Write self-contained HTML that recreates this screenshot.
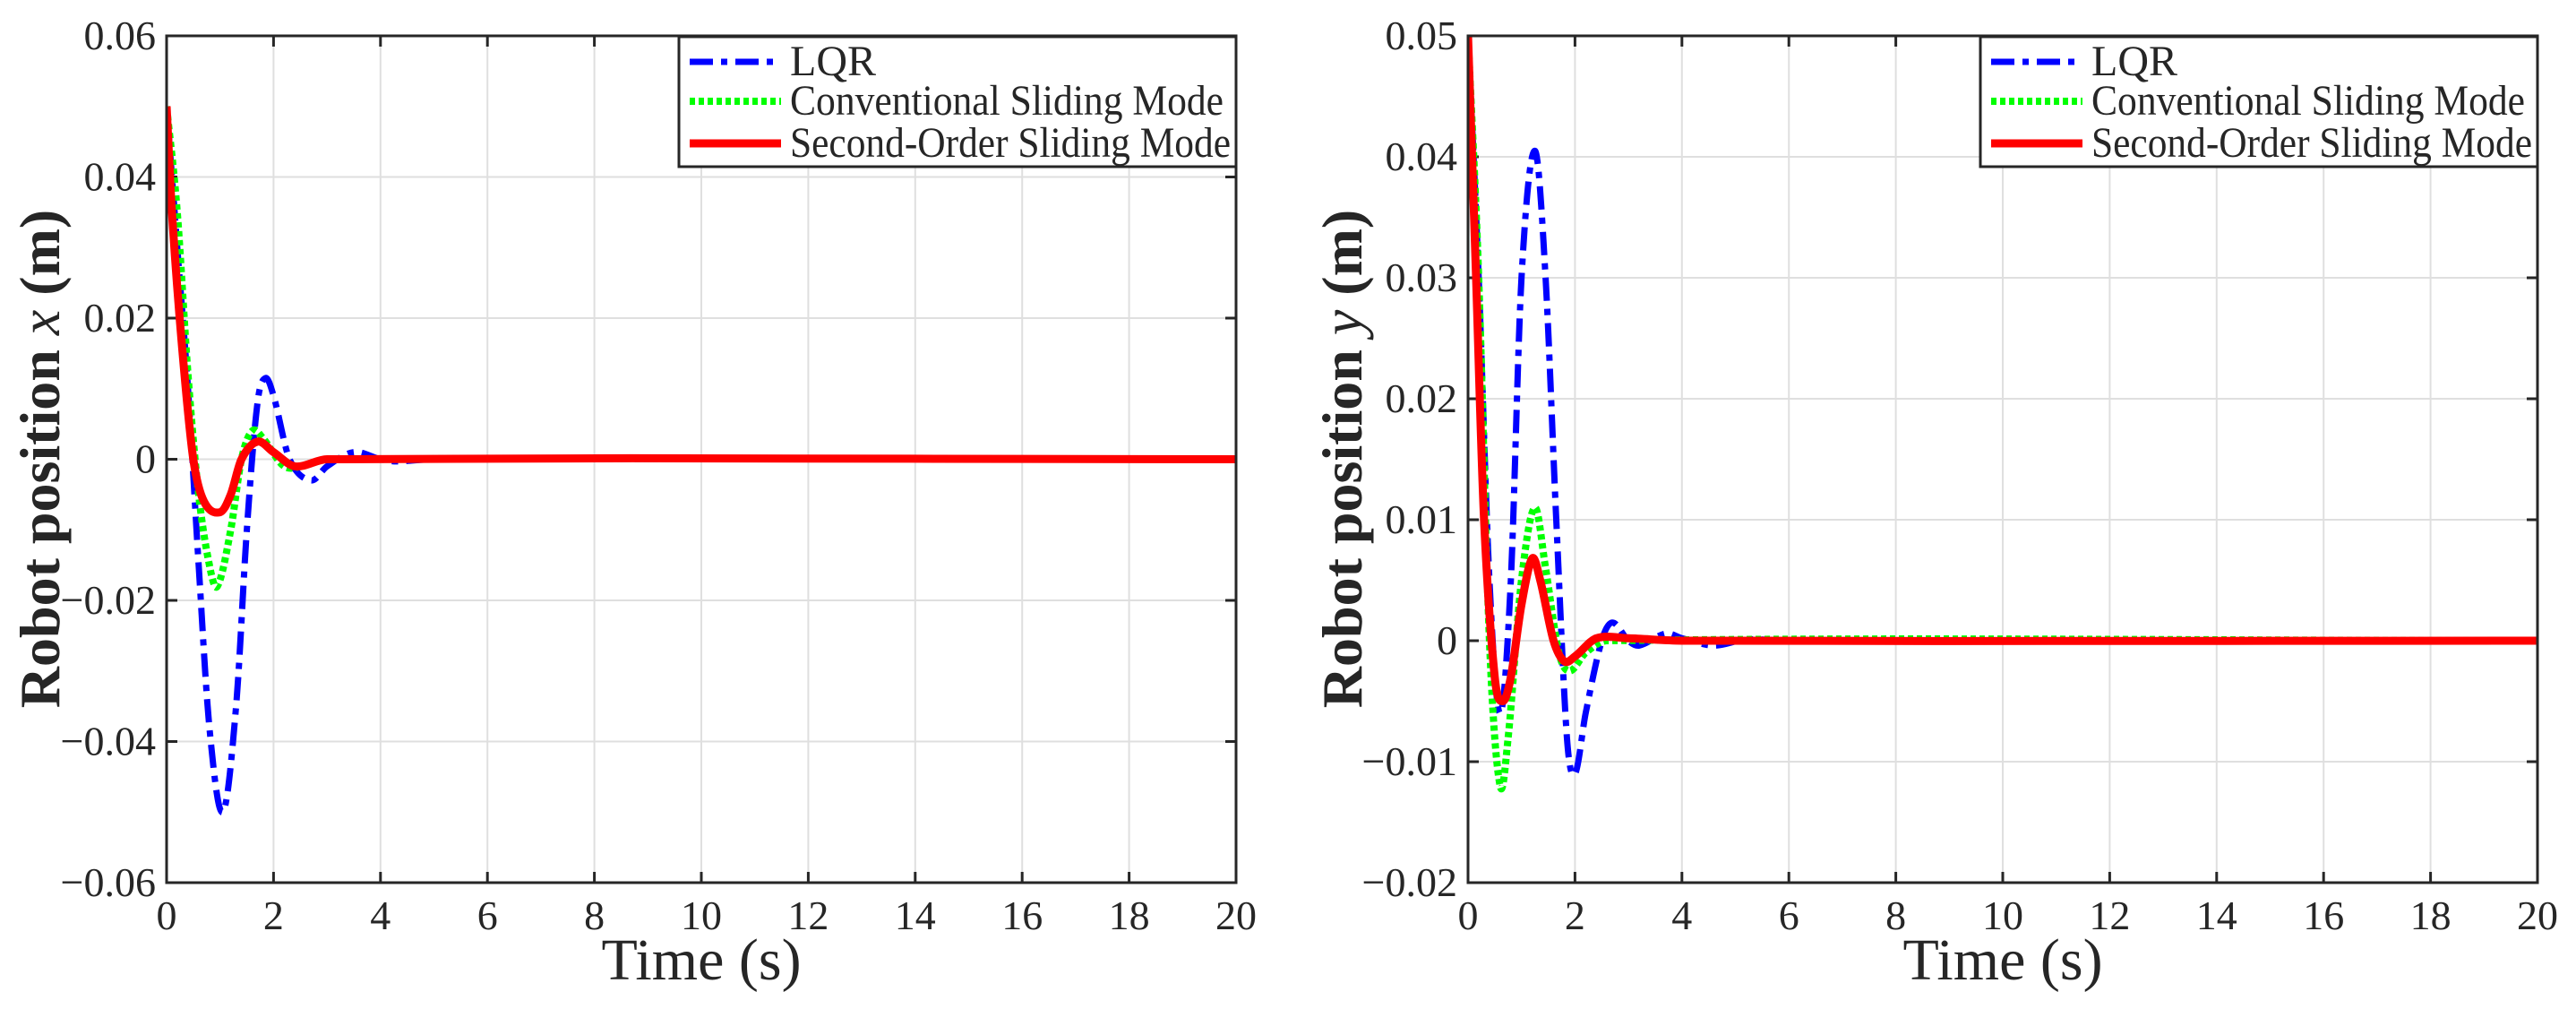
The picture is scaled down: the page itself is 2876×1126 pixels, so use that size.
<!DOCTYPE html>
<html><head><meta charset="utf-8"><style>
html,body{margin:0;padding:0;background:#fff;}
svg{display:block;}
text{font-family:"Liberation Serif","DejaVu Serif",serif;fill:#262626;}
</style></head><body>
<svg id="fig" width="2876" height="1126" viewBox="0 0 2876 1126" xmlns="http://www.w3.org/2000/svg"></svg>
<script>
// ---- data (left: x position) ----
const xT_lqr = [0,0.2,0.4,0.6,0.8,1.05,1.3,1.5,1.7,1.85,2.0,2.3,2.7,3.0,3.5,4.0,4.3,5,20];
const xV_lqr = [0.05,0.03,0.01,-0.015,-0.038,-0.05,-0.035,-0.01,0.008,0.0115,0.009,0.0,-0.003,-0.001,0.001,0.0,-0.0003,0,0];
const xT_csm = [0,0.2,0.4,0.6,0.8,0.95,1.2,1.4,1.6,1.8,2.2,2.6,3.0,20];
const xV_csm = [0.05,0.035,0.012,-0.005,-0.015,-0.018,-0.01,0.0,0.004,0.003,-0.001,-0.0008,0,0];
const xT_sosm = [0,0.1,0.3,0.5,0.7,1.0,1.2,1.4,1.7,2.0,2.4,3.0,20];
const xV_sosm = [0.05,0.035,0.015,0.0,-0.006,-0.0075,-0.005,0.0,0.0025,0.001,-0.001,0,0];
// ---- data (right: y position) ----
const yT_lqr = [0,0.2,0.4,0.6,0.8,1.0,1.25,1.45,1.65,1.85,2.0,2.2,2.5,2.7,3.0,3.2,3.7,4.0,4.6,5.2,6,20];
const yV_lqr = [0.05,0.03,0.005,-0.006,0.005,0.03,0.0405,0.03,0.01,-0.008,-0.011,-0.006,0.0,0.0015,0.0,-0.0004,0.0006,0.0002,-0.0004,0.0001,0,0];
const yT_csm = [0,0.2,0.4,0.6,0.75,1.0,1.25,1.45,1.7,1.9,2.2,2.6,20];
const yV_csm = [0.05,0.03,0.0,-0.012,-0.008,0.005,0.011,0.006,-0.001,-0.0025,-0.001,0,0];
const yT_sosm = [0,0.15,0.3,0.5,0.65,0.8,1.0,1.2,1.35,1.6,1.8,2.0,2.4,3.0,4.0,20];
const yV_sosm = [0.05,0.03,0.01,-0.003,-0.005,-0.003,0.003,0.0068,0.005,0.0,-0.0017,-0.0013,0.0002,0.0002,0,0];
const xTicks = [0,2,4,6,8,10,12,14,16,18,20];
const leftYTicks = [-0.06,-0.04,-0.02,0,0.02,0.04,0.06];
const leftYLabels = ["\u22120.06","\u22120.04","\u22120.02","0","0.02","0.04","0.06"];
const rightYTicks = [-0.02,-0.01,0,0.01,0.02,0.03,0.04,0.05];
const rightYLabels = ["\u22120.02","\u22120.01","0","0.01","0.02","0.03","0.04","0.05"];
const legendNames = ["LQR","Conventional Sliding Mode","Second-Order Sliding Mode"];

const NS="http://www.w3.org/2000/svg";
const svg=document.getElementById('fig');
function mk(tag,attrs,parent){const e=document.createElementNS(NS,tag);for(const k in attrs)e.setAttribute(k,attrs[k]);(parent||svg).appendChild(e);return e;}
const styles=[
 {stroke:"#0000ff",w:7,dash:"26 9 7 9",cls:"lqr"},
 {stroke:"#00ff00",w:8,dash:"6 4",cls:"csm"},
 {stroke:"#ff0000",w:9,dash:"",cls:"sosm"}];
function pathFrom(T,V,sx,sy){
 const n=T.length;
 const m=T.map((t,i)=>{
  if(i==0)return (V[1]-V[0])/(T[1]-T[0]);
  if(i==n-1)return (V[n-1]-V[n-2])/(T[n-1]-T[n-2]);
  return (V[i+1]-V[i-1])/(T[i+1]-T[i-1]);
 });
 let d="M"+sx(T[0]).toFixed(1)+","+sy(V[0]).toFixed(1);
 for(let i=0;i<n-1;i++){
  const h=(T[i+1]-T[i])/3;
  d+=" C"+sx(T[i]+h).toFixed(1)+","+sy(V[i]+m[i]*h).toFixed(1)+" "+sx(T[i+1]-h).toFixed(1)+","+sy(V[i+1]-m[i+1]*h).toFixed(1)+" "+sx(T[i+1]).toFixed(1)+","+sy(V[i+1]).toFixed(1);
 }
 return d;
}
function chart(o){
 const g=mk('g',{});
 
 
 const L=o.left,R=o.left+1194,Tp=40,B=985;
 const sx=t=>L+(t/20)*(R-L);
 const sy=v=>B-(v-o.ymin)/(o.ymax-o.ymin)*(B-Tp);
 const clipId='clip'+o.name;
 const cp=mk('clipPath',{id:clipId},g);mk('rect',{x:L,y:Tp,width:R-L,height:B-Tp},cp);
 xTicks.forEach(t=>{
  const x=sx(t);
  const gl=mk('line',{x1:x,y1:Tp,x2:x,y2:B,stroke:"#dfdfdf","stroke-width":2},g);
  
  
  mk('line',{x1:x,y1:B,x2:x,y2:B-12,stroke:"#262626","stroke-width":3},g);
  mk('line',{x1:x,y1:Tp,x2:x,y2:Tp+12,stroke:"#262626","stroke-width":3},g);
  const tl=mk('text',{x:x,y:1037,"font-size":46,"text-anchor":"middle"},g);tl.textContent=t;
  
  
 });
 o.yticks.forEach((v,i)=>{
  const y=sy(v);
  const gl=mk('line',{x1:L,y1:y,x2:R,y2:y,stroke:"#dfdfdf","stroke-width":2},g);
  
  
  mk('line',{x1:L,y1:y,x2:L+12,y2:y,stroke:"#262626","stroke-width":3},g);
  mk('line',{x1:R,y1:y,x2:R-12,y2:y,stroke:"#262626","stroke-width":3},g);
  const tl=mk('text',{x:L-12,y:y+15,"font-size":46,"text-anchor":"end"},g);tl.textContent=o.ylabels[i];
  
  
 });
 const sg=mk('g',{"clip-path":"url(#"+clipId+")"},g);
 o.series.forEach((s,i)=>{
  const st=styles[i];
  const p=mk('path',{d:pathFrom(s[0],s[1],sx,sy),fill:"none",stroke:st.stroke,"stroke-width":st.w,"stroke-linejoin":"round","stroke-dasharray":st.dash},sg);
  
  
 });
 const box=mk('rect',{x:L,y:Tp,width:R-L,height:B-Tp,fill:"none",stroke:"#262626","stroke-width":3},g);
 
 
 const lg=mk('g',{},g);
 
 
 const lx=R-622;
 mk('rect',{x:lx,y:Tp+1,width:622,height:145,fill:"#fff",stroke:"#262626","stroke-width":3},lg);
 [69,113,160].forEach((y,i)=>{
  const st=styles[i];
  const e=mk('g',{},lg);
  
  
  mk('line',{x1:lx+12,y1:y,x2:lx+114,y2:y,stroke:st.stroke,"stroke-width":st.w,"stroke-dasharray":st.dash},e);
  const t=mk('text',{x:lx+124,y:y+15,"font-size":48,fill:"#000"},e);
  if(i>0){t.setAttribute('textLength',i==1?484:492);t.setAttribute('lengthAdjust','spacingAndGlyphs');}
  t.textContent=legendNames[i];
 });
 const xt=mk('text',{x:(L+R)/2,y:1093,"font-size":66,"text-anchor":"middle",fill:"#000"},g);
 xt.textContent="Time (s)";
 
 
 const yt=mk('text',{x:0,y:0,"font-size":64,"text-anchor":"middle",fill:"#000","font-weight":"bold",transform:"translate("+(o.ytx)+",512) rotate(-90)"},g);
 yt.innerHTML='Robot position <tspan font-style="italic" font-weight="normal">'+o.var+'</tspan> (m)';
 
 
}
chart({name:'chart-x',left:186,ymin:-0.06,ymax:0.06,yticks:leftYTicks,ylabels:leftYLabels,ytx:66,var:'x',
 series:[[xT_lqr,xV_lqr],[xT_csm,xV_csm],[xT_sosm,xV_sosm]]});
chart({name:'chart-y',left:1639,ymin:-0.02,ymax:0.05,yticks:rightYTicks,ylabels:rightYLabels,ytx:1520,var:'y',
 series:[[yT_lqr,yV_lqr],[yT_csm,yV_csm],[yT_sosm,yV_sosm]]});
</script>
</body></html>
